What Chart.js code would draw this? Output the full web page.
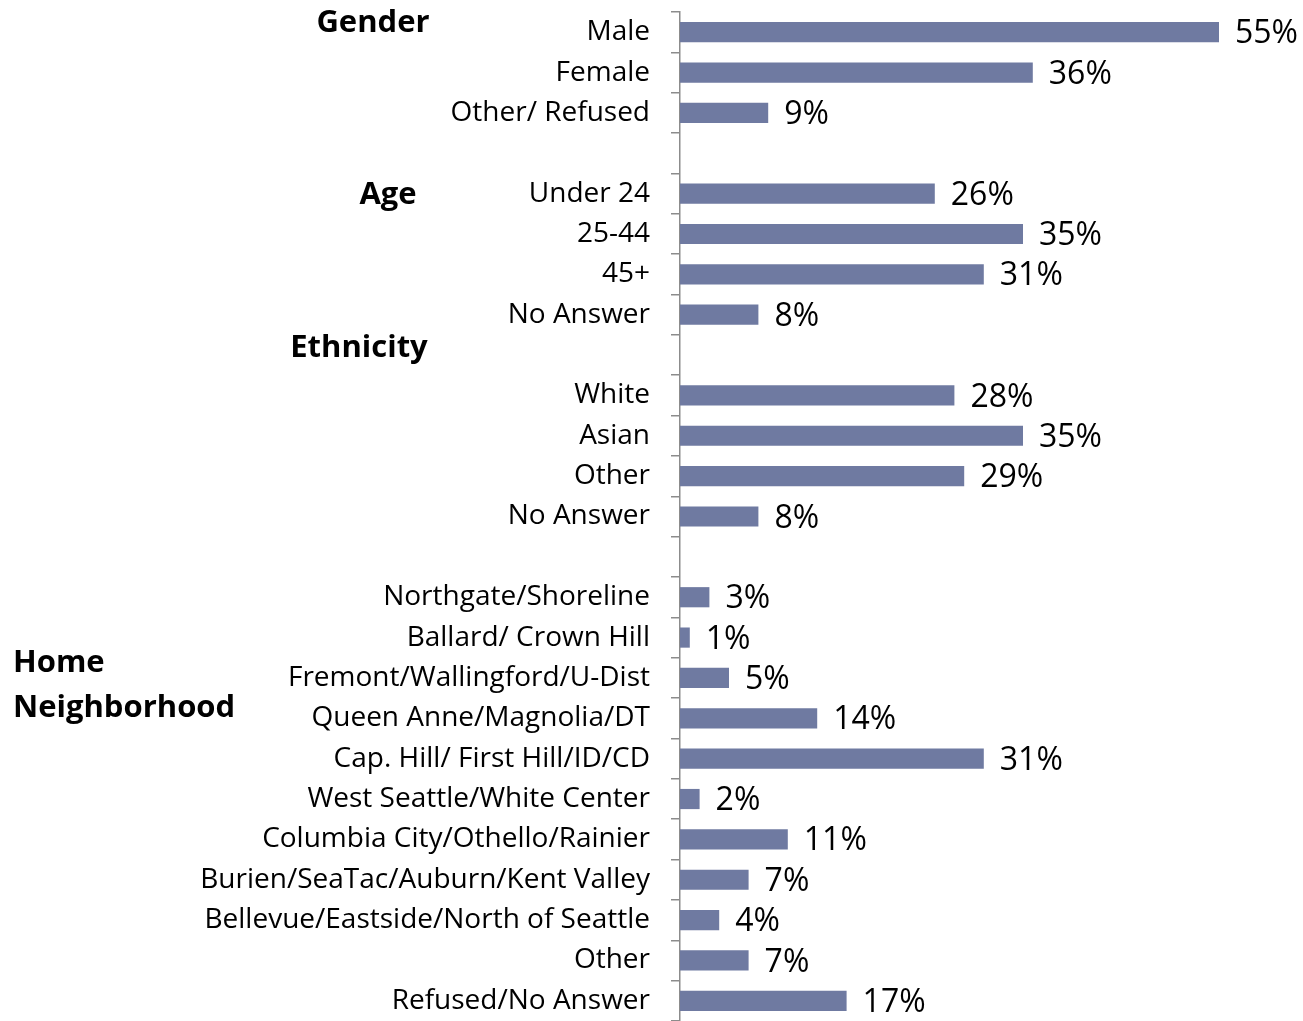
<!DOCTYPE html>
<html lang="en">
<head>
    <meta charset="UTF-8">
    <title>Respondent profile</title>
    <script src="https://cdn.jsdelivr.net/npm/chart.js"></script>
    <style>
        html, body { margin: 0; padding: 0; background: #fff; }
        #wrap { width: 1303px; height: 1021px; position: relative; }
    </style>
</head>
<body>
    <div id="wrap"><canvas id="grafica"></canvas></div>

    <script>
        // rows of the chart, blank strings are spacer rows between groups
        const categories = [
            'Male', 'Female', 'Other/ Refused', '',
            'Under 24', '25-44', '45+', 'No Answer', '',
            'White', 'Asian', 'Other', 'No Answer', '',
            'Northgate/Shoreline', 'Ballard/ Crown Hill', 'Fremont/Wallingford/U-Dist',
            'Queen Anne/Magnolia/DT', 'Cap. Hill/ First Hill/ID/CD', 'West Seattle/White Center',
            'Columbia City/Othello/Rainier', 'Burien/SeaTac/Auburn/Kent Valley',
            'Bellevue/Eastside/North of Seattle', 'Other', 'Refused/No Answer'
        ];

        // percent of respondents, null on spacer rows
        const percents = [
            55, 36, 9, null,
            26, 35, 31, 8, null,
            28, 35, 29, 8, null,
            3, 1, 5, 14, 31, 2, 11, 7, 4, 7, 17
        ];

        const groupTitles = ['Gender', 'Age', 'Ethnicity', ['Home', 'Neighborhood']];

        const FONT = '"Open Sans", sans-serif';

        // where each group title sits: row index (fractional) and x
        const titlePlaces = [
            { row: -0.22, x: 373, align: 'center' },
            { row: 4.04, x: 388, align: 'center' },
            { row: 7.83, x: 359, align: 'center' },
            { row: 15.63, x: 13, align: 'left', lineGap: 1.11 }
        ];

        const groupTitlePlugin = {
            id: 'groupTitles',
            afterDraw(chart) {
                const y = chart.scales.y;
                const ctx = chart.ctx;
                const y0 = y.getPixelForValue(0);
                const step = y.getPixelForValue(1) - y0;
                ctx.save();
                ctx.fillStyle = '#000';
                ctx.font = 'bold 31px ' + FONT;
                ctx.textBaseline = 'middle';
                groupTitles.forEach((t, i) => {
                    const p = titlePlaces[i];
                    ctx.textAlign = p.align;
                    const lines = Array.isArray(t) ? t : [t];
                    lines.forEach((line, j) => {
                        ctx.fillText(line, p.x, y0 + (p.row + j * (p.lineGap || 0)) * step);
                    });
                });
                ctx.restore();
            }
        };

        const valueLabelPlugin = {
            id: 'valueLabels',
            afterDatasetsDraw(chart) {
                const ctx = chart.ctx;
                const meta = chart.getDatasetMeta(0);
                ctx.save();
                ctx.fillStyle = '#000';
                ctx.font = '32px ' + FONT;
                ctx.textAlign = 'left';
                ctx.textBaseline = 'middle';
                meta.data.forEach((bar, i) => {
                    if (percents[i] === null) return;
                    ctx.fillText(percents[i] + '%', bar.x + 16, bar.y + 2);
                });
                ctx.restore();
            }
        };

        new Chart(document.getElementById('grafica'), {
            type: 'bar',
            data: {
                labels: categories,
                datasets: [{
                    data: percents,
                    backgroundColor: '#6f7aa1',
                    borderWidth: 0,
                    barPercentage: 0.5,
                    categoryPercentage: 1.0
                }]
            },
            options: {
                indexAxis: 'y',
                responsive: true,
                maintainAspectRatio: false,
                animation: false,
                layout: { padding: { top: 12, right: 35, bottom: 0, left: 0 } },
                plugins: {
                    legend: { display: false },
                    tooltip: { enabled: false }
                },
                scales: {
                    x: {
                        display: false,
                        min: 0,
                        max: 60
                    },
                    y: {
                        afterFit(scale) {
                            // fixed label column, no extra room for half labels
                            scale.width = 680;
                            scale.paddingTop = 0;
                            scale.paddingBottom = 0;
                        },
                        grid: {
                            display: true,
                            drawOnChartArea: false,
                            offset: true,
                            tickLength: 9,
                            color: '#8c8c8c',
                            lineWidth: 1.5
                        },
                        border: { display: true, color: '#8c8c8c', width: 1.5 },
                        ticks: {
                            color: '#000',
                            padding: 21,
                            autoSkip: false,
                            font: { family: FONT, size: 28 }
                        }
                    }
                }
            },
            plugins: [groupTitlePlugin, valueLabelPlugin]
        });
    </script>
</body>
</html>
